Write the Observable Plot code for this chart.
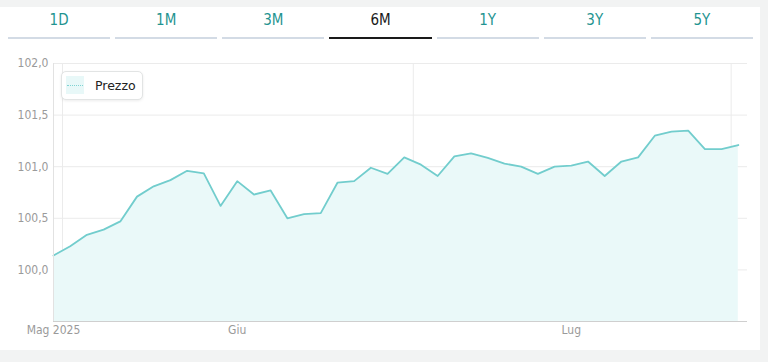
<!DOCTYPE html>
<html><head><meta charset="utf-8">
<script src="https://cdn.jsdelivr.net/npm/d3@7"></script>
<script src="https://cdn.jsdelivr.net/npm/@observablehq/plot@0.6"></script>
<style>
body{margin:0;background:#f2f3f3;width:768px;height:362px;overflow:hidden;font-family:"DejaVu Sans Condensed","Liberation Sans Narrow",sans-serif;}
#card{position:absolute;left:0;top:7px;width:760px;height:343px;background:#fff;}
#tabs{position:absolute;left:8px;top:0;width:745px;display:flex;gap:5px;}
.tab{flex:1;text-align:center;height:30px;line-height:26px;font-size:15px;color:#1f9491;border-bottom:2px solid #d3dbe5;}
.tab.active{color:#1a1a1a;border-bottom:2px solid #1a1a1a;}
#chart{position:absolute;left:0;top:41px;}
#legend{position:absolute;left:61px;top:64px;width:80px;height:27px;background:#fff;border:1px solid #e2e4e4;border-radius:5px;box-shadow:0 1px 3px rgba(0,0,0,0.08);}
#legend .sw{position:absolute;left:4px;top:4px;width:18px;height:18px;background:#e8f8f8;}
#legend .sw::after{content:"";position:absolute;left:1px;right:1px;top:9px;border-top:1px dotted #7fd3d3;}
#legend .lbl{position:absolute;left:33px;top:0;line-height:27px;font-size:12.5px;color:#222;font-family:"DejaVu Sans",sans-serif;}
</style></head>
<body>
<div id="card">
  <div id="tabs"></div>
  <div id="chart"></div>
  <div id="legend"><div class="sw"></div><div class="lbl">Prezzo</div></div>
</div>
<script>
const tabLabels = ["1D","1M","3M","6M","1Y","3Y","5Y"];
const activeTab = "6M";
const prices = [100.14,100.23,100.34,100.39,100.47,100.71,100.81,100.87,100.96,100.935,
  100.62,100.86,100.73,100.77,100.50,100.54,100.55,100.845,100.86,100.99,
  100.93,101.09,101.02,100.91,101.10,101.13,101.085,101.03,101.00,100.93,
  101.00,101.01,101.05,100.91,101.05,101.09,101.30,101.34,101.35,101.17,
  101.17,101.21];
const xTickIndex = [0, 11, 31];
const xTickLabels = ["Mag 2025","Giu","Lug"];
const xGridIndex = [0.54, 21.54, 40.57];
const yTicks = [100.0, 100.5, 101.0, 101.5, 102.0];
const yMin = 99.5, yMax = 102.0;

const tabs = document.getElementById("tabs");
tabLabels.forEach(t => {
  const d = document.createElement("div");
  d.className = "tab" + (t === activeTab ? " active" : "");
  d.textContent = t;
  tabs.appendChild(d);
});

const data = prices.map((v, i) => ({i, v}));
const labelMap = new Map(xTickIndex.map((d, k) => [d, xTickLabels[k]]));

const chart = Plot.plot({
  width: 760, height: 300,
  marginTop: 15, marginBottom: 27, marginLeft: 53, marginRight: 13,
  style: {fontFamily: "'DejaVu Sans Condensed', sans-serif", fontSize: "12px", color: "#9a9a9a", background: "transparent"},
  x: {type: "linear", domain: [0, 41.55], axis: null},
  y: {domain: [yMin, yMax], axis: null},
  marks: [
    Plot.ruleY(yTicks, {stroke: "#ebebeb"}),
    Plot.ruleX(xGridIndex, {stroke: "#ebebeb"}),
    Plot.areaY(data, {x: "i", y1: yMin, y2: "v", fill: "#eaf9f9"}),
    Plot.lineY(data, {x: "i", y: "v", stroke: "#72cdcd", strokeWidth: 1.8}),
    Plot.ruleY([yMin], {stroke: "#cfcfcf"}),
    Plot.ruleX([0], {stroke: "#e2e2e2"}),
    Plot.axisY(yTicks, {label: null, tickSize: 0, tickPadding: 5, tickFormat: d => d.toFixed(1).replace(".", ",")}),
    Plot.axisX(xTickIndex, {label: null, tickSize: 0, tickPadding: 4, tickFormat: d => labelMap.get(d)})
  ]
});
document.getElementById("chart").appendChild(chart);
</script>
</body></html>
